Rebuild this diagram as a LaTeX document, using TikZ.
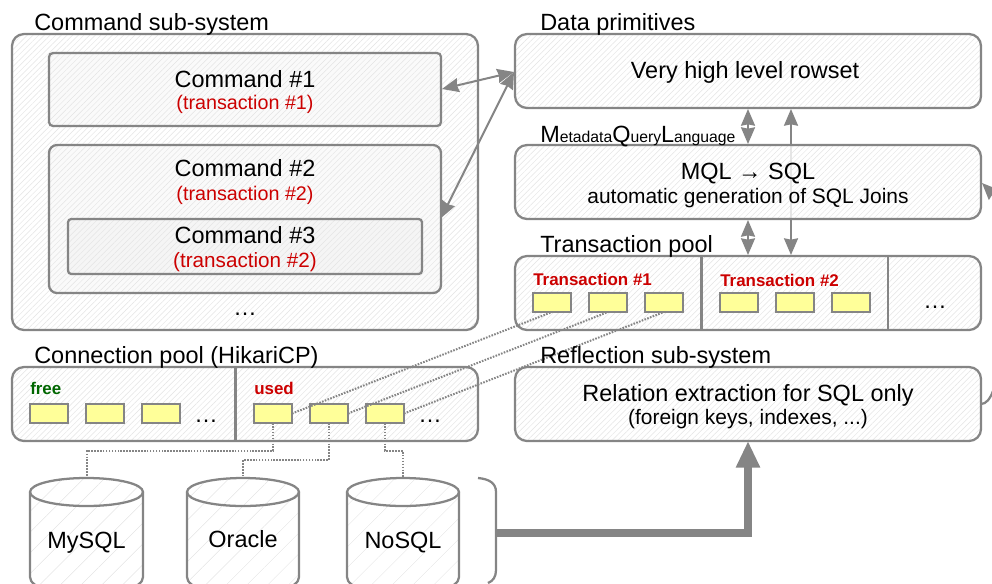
\documentclass[tikz,border=0pt]{standalone}
\usepackage{fontspec}
\setmainfont{Liberation Sans}
\usetikzlibrary{patterns.meta,arrows.meta,calc}
\definecolor{ln}{HTML}{858585}
\definecolor{hatch}{HTML}{E4E4E4}
\definecolor{conn}{HTML}{FFFF99}
\definecolor{redt}{HTML}{CC0000}
\definecolor{grn}{HTML}{006600}
\newcommand{\pxbox}[6]{\node[#6,minimum width={(#4-#2)*0.75pt},minimum height={(#5-#3)*0.75pt}] (#1) at ({(#2+#4)/2},{(#3+#5)/2}) {};}
\newcommand{\slot}[3]{\pxbox{#1}{#2}{#3}{#2+38}{#3+19}{slotbox}}
\tikzset{
  x=0.75pt,y=-0.75pt,
  hatched/.style={draw=ln,line width=1.7pt,inner sep=0,outer sep=0,
    preaction={fill=#1},pattern={Lines[angle=45,distance=3pt,line width=.35pt]},pattern color=hatch},
  panel/.style={hatched=white,rounded corners=9pt},
  clearpanel/.style={draw=ln,line width=1.7pt,inner sep=0,outer sep=0,rounded corners=9pt,
    preaction={fill=white,fill opacity=.8},pattern={Lines[angle=45,distance=3pt,line width=.35pt]},pattern color=hatch},
  cmdA/.style={hatched=black!2,rounded corners=3pt},
  cmdB/.style={hatched=black!2,rounded corners=6pt},
  cmdC/.style={hatched=black!4,rounded corners=2.5pt},
  slotbox/.style={draw=ln,line width=1.5pt,fill=conn,inner sep=0,outer sep=0},
  big/.style={anchor=base,font=\fontsize{17.6}{20}\selectfont,text=black,inner sep=0},
  bigl/.style={big,anchor=base west},
  small/.style={anchor=base,font=\fontsize{15.7}{18}\selectfont,text=black,inner sep=0},
  redsmall/.style={small,font=\fontsize{14.8}{17}\selectfont,text=redt},
  tag/.style={anchor=base west,font=\fontsize{12.7}{15}\selectfont\bfseries,inner sep=0},
  arr/.style={draw=ln,line width=1.5pt,{Stealth[length=12.5pt,width=10.5pt,inset=1pt]}-{Stealth[length=12.5pt,width=10.5pt,inset=1pt]}},
  wire/.style={draw=ln,line width=1.5pt,dash pattern=on 1.2pt off 1pt,line cap=butt},
  dbline/.style={draw=ln,line width=1.7pt},
  dbnode/.style={inner sep=0,outer sep=0},
}
\newcommand{\cyl}[3]{% name, x1, x2
  \pxbox{#1}{#2}{478}{#3}{585}{dbnode}
  \path[dbline,pattern={Lines[angle=45,distance=11pt,line width=.35pt]},pattern color=hatch]
    (#2,492) .. controls (#2,484) and ({#2+25},478) .. ({(#2+#3)/2},478)
    .. controls ({#3-25},478) and (#3,484) .. (#3,492) -- (#3,577)
    .. controls (#3,588) and ({#3-25},594) .. ({(#2+#3)/2},594)
    .. controls ({#2+25},594) and (#2,588) .. (#2,577) -- cycle;
  \draw[dbline] (#2,492) .. controls (#2,500) and ({#2+25},506) .. ({(#2+#3)/2},506)
    .. controls ({#3-25},506) and (#3,500) .. (#3,492);
}
\begin{document}
\begin{tikzpicture}
\useasboundingbox (0,0) rectangle (992,583);
\clip (0,0) rectangle (992,583);
% panels
\pxbox{cmdsys}{12}{34}{478}{330}{panel}
\pxbox{cmdone}{49}{53}{441}{126}{cmdA}
\pxbox{cmdtwo}{49}{145}{441}{293}{cmdB}
\pxbox{cmdthree}{68}{219}{422}{274}{cmdC}
\pxbox{data}{515}{34}{981}{108}{panel}
\pxbox{txpool}{515}{256}{981}{330}{panel}
\pxbox{connpool}{12}{367}{478}{441}{panel}
\pxbox{refl}{515}{367}{981}{441}{panel}
% long arrow passes behind the MQL box
\coordinate (longtop) at (791,109);
\coordinate (longbot) at (791,255);
\draw[arr] (longtop) -- (longbot);
\pxbox{mql}{515}{145}{981}{219}{clearpanel}
% dividers
\coordinate (dtA) at (701.5,256); \coordinate (dbA) at (701.5,330);
\coordinate (dtB) at (888,256); \coordinate (dbB) at (888,330);
\coordinate (dtC) at (235.5,367); \coordinate (dbC) at (235.5,441);
\draw[dbline] (dtA) -- (dbA); \draw[dbline] (dtB) -- (dbB); \draw[dbline] (dtC) -- (dbC);
% slots
\slot{ta}{533}{293}\slot{tb}{589}{293}\slot{tc}{645}{293}
\slot{td}{720}{293}\slot{te}{776}{293}\slot{tf}{832}{293}
\slot{fa}{30}{404}\slot{fb}{86}{404}\slot{fc}{142}{404}
\slot{ua}{254}{404}\slot{ub}{310}{404}\slot{uc}{366}{404}
% databases
\cyl{mysql}{30}{143}
\cyl{oracle}{187}{299}
\cyl{nosql}{347}{459}
% dotted wires
\draw[wire] (ua.east) -- (ta.south);
\draw[wire] (ub.east) -- (tb.south);
\draw[wire] (uc.east) -- (tc.south);
\draw[wire] (ua.south) -- (ua.south |- 0,451) -- (mysql.north |- 0,451) -- (mysql.north);
\draw[wire] (ub.south) -- (ub.south |- 0,460) -- (oracle.north |- 0,460) -- (oracle.north);
\draw[wire] (uc.south) -- (uc.south |- 0,451) -- (nosql.north |- 0,451) -- (nosql.north);
% arrows
\coordinate (datain) at (514,72);
\draw[arr] (442,89) -- (datain);
\draw[arr] (441,218) -- (datain);
\draw[arr] (748,109) -- (748,144);
\draw[arr] (748,220) -- (748,255);
% brace and thick arrow
\coordinate (bracetop) at (478,478);
\coordinate (bracemid) at (496,533);
\draw[dbline] (bracetop) .. controls (489,479) and (496,483) .. (496,492) -- (496,570) .. controls (496,577) and (493,581) .. (488,583);
\draw[draw=ln,line width=6.2pt,-{Stealth[length=20pt,width=17pt,inset=0pt]}] (bracemid) -| (refl.south -| 748,0);
% clipped connectors at right edge
\coordinate (mqlin) at (982,183);
\coordinate (mqlout) at (1004,205);
\draw[draw=ln,line width=1.5pt,{Stealth[length=12.5pt,width=10.5pt,inset=1pt]}-] (mqlin) -- (mqlout);
\coordinate (reflout) at (981,404);
\draw[dbline] (reflout) .. controls (986,404) and (990,399) .. (993,391);
% labels
\node[bigl] (h1) at (34,30) {Command sub-system};
\node[bigl] (h2) at (540,30) {Data primitives};
\node[bigl] (h3) at (540,252) {Transaction pool};
\node[bigl] (h4) at (34,363) {Connection pool (HikariCP)};
\node[bigl] (h5) at (540,363) {Reflection sub-system};
\node[anchor=base west,inner sep=0] (h6) at (540,142) {\fontsize{17.6}{20}\selectfont M\fontsize{11.8}{14}\selectfont etadata\fontsize{17.6}{20}\selectfont Q\fontsize{11.8}{14}\selectfont uery\fontsize{17.6}{20}\selectfont L\fontsize{11.8}{14}\selectfont anguage};
\node[big] (c1) at (245,87) {Command \#1};
\node[redsmall] (c1t) at (245,109) {(transaction \#1)};
\node[big] (c2) at (245,176) {Command \#2};
\node[redsmall] (c2t) at (245,200) {(transaction \#2)};
\node[big] (c3) at (245,243) {Command \#3};
\node[big,text=redt,font=\fontsize{15.5}{18}\selectfont] (c3t) at (245,267) {(transaction \#2)};
\node[big] (dots1) at (245,315) {…};
\node[big] (vh) at (745,78) {Very high level rowset};
\node[big] (mqlt) at (748,179) {MQL → SQL};
\node[small] (mqls) at (748,203) {automatic generation of SQL Joins};
\node[tag,text=redt] (t1) at (533,285) {Transaction \#1};
\node[tag,text=redt] (t2) at (720,286) {Transaction \#2};
\node[big] (dots2) at (935,308) {…};
\node[tag,text=grn] (fr) at (30,394) {free};
\node[tag,text=redt] (us) at (254,394) {used};
\node[big] (dots3) at (206,422) {…};
\node[big] (dots4) at (430,422) {…};
\node[big] (rt) at (748,401) {Relation extraction for SQL only};
\node[small] (rs) at (748,424) {(foreign keys, indexes, ...)};
\node[big] (mt) at (86.5,548) {MySQL};
\node[big] (ot) at (243,547) {Oracle};
\node[big] (nt) at (403,548) {NoSQL};
\end{tikzpicture}
\end{document}
